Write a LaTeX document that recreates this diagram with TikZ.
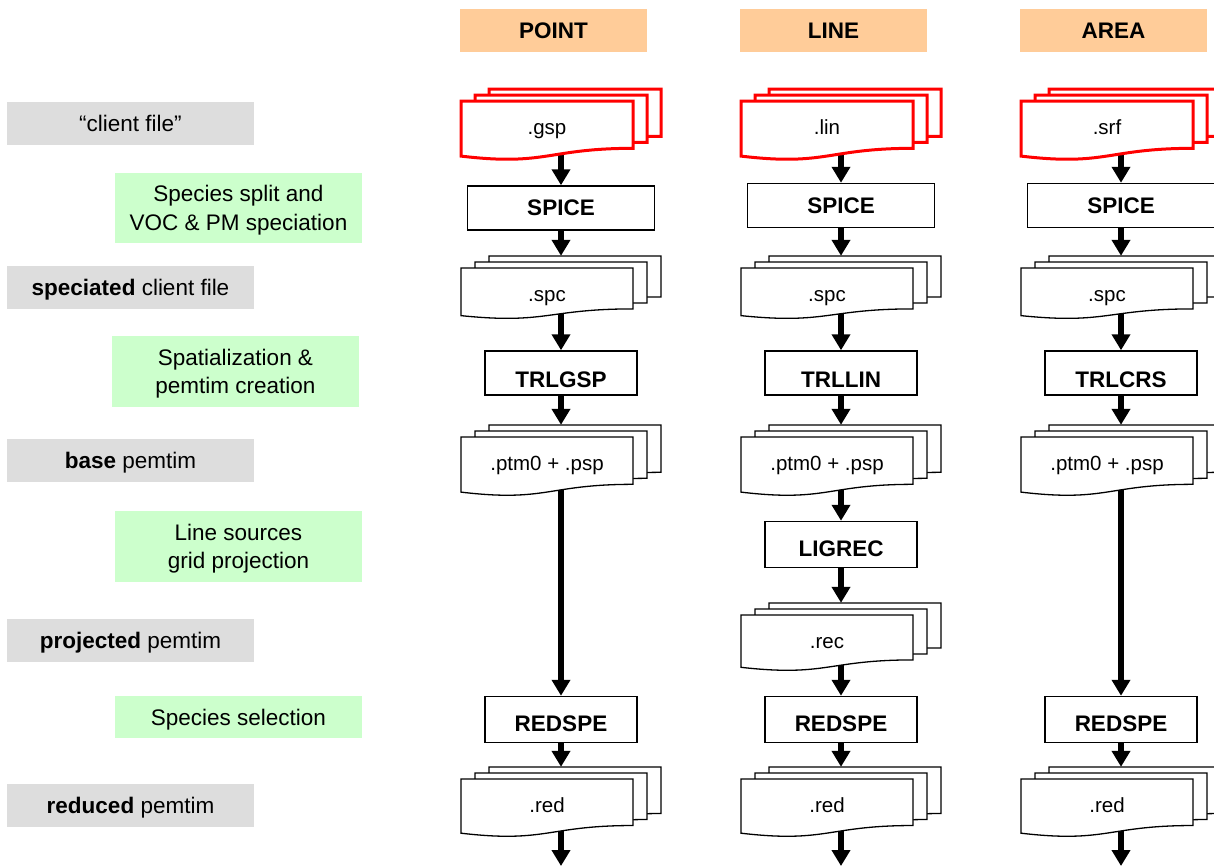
\documentclass[tikz,border=0pt]{standalone}
\usepackage{fontspec}
\setmainfont{Liberation Sans}
\usetikzlibrary{arrows.meta,backgrounds}

\definecolor{hdrorange}{HTML}{FFCC99}
\definecolor{stepgreen}{HTML}{CCFFCC}
\definecolor{filegray}{HTML}{DDDDDD}

\tikzset{
  lblfont/.style={font=\fontsize{22.5}{28.5}\selectfont, text depth=0pt},
  graylbl/.style={lblfont, fill=filegray, minimum width=247pt, minimum height=43pt, inner sep=0pt, align=center},
  greenlbl/.style={lblfont, fill=stepgreen, minimum width=247pt, inner sep=0pt, align=center},
  hdr/.style={fill=hdrorange, minimum width=187pt, minimum height=43pt, inner sep=0pt,
              font=\fontsize{22.5}{27}\selectfont\bfseries},
  prog/.style={draw, line width=1.5pt, fill=white, minimum height=44pt, inner sep=0pt,
               font=\fontsize{22.5}{27}\selectfont\bfseries},
  flow/.style={line width=6pt, -{Triangle[width=18pt,length=16pt]}},
  docline/.style={draw=black, line width=1.3pt, fill=white},
  clientline/.style={draw=red, line width=3pt, fill=white},
  doctext/.style={font=\fontsize{20.5}{24}\selectfont, inner sep=0pt},
}

% one sheet of a document symbol: top-left corner (#1,#2), height #3, style #4
\newcommand\docsheet[4]{%
  \path[#4] ({#1},{#2}) -- ({#1+172},{#2}) -- ({#1+172},{#2+0.802*#3})
    .. controls ({#1+86},{#2+0.802*#3}) and ({#1+86},{#2+1.107*#3}) .. ({#1},{#2+0.934*#3}) -- cycle;}

% stack of three sheets: name, centre x, top of front sheet, height, text, style
\newcommand\docstack[6]{%
  \docsheet{#2-72}{#3-12}{#4}{#6}%
  \docsheet{#2-86}{#3-6}{#4}{#6}%
  \docsheet{#2-100}{#3}{#4}{#6}%
  \node[doctext, anchor=base] (#1-t) at ({#2-14},{#3+33}) {#5};%
  \node[inner sep=0pt, minimum width=200pt, minimum height={(12+0.88*#4)*1pt}]
    (#1) at ({#2},{#3-12+(12+0.88*#4)/2}) {};%
}

\begin{document}
\begin{tikzpicture}[x=1pt,y=-1pt]
\useasboundingbox (0,0) rectangle (1214,867);
\begin{pgfonlayer}{background}
  \fill[white] (0,0) rectangle (1214,867);
\end{pgfonlayer}

% processing stages (left side)
\node[graylbl] (lClient) at (130.5,123) {“client file”};
\node[greenlbl, minimum height=70pt] (lSplit) at (238.5,208) {Species split and\\VOC \& PM speciation};
\node[graylbl] (lSpec) at (130.5,287) {\textbf{speciated} client file};
\node[greenlbl, minimum height=71pt] (lSpat) at (235.5,371.5) {Spatialization \&\\pemtim creation};
\node[graylbl] (lBase) at (130.5,460.5) {\textbf{base} pemtim};
\node[greenlbl, minimum height=71pt] (lProj) at (238.5,546.5) {Line sources\\grid projection};
\node[graylbl] (lProjd) at (130.5,640.5) {\textbf{projected} pemtim};
\node[greenlbl, minimum height=42pt] (lSel) at (238.5,717) {Species selection};
\node[graylbl] (lRed) at (130.5,805.5) {\textbf{reduced} pemtim};

% one column per source type
\foreach \c/\cx/\hd/\cf/\trl/\sy in {P/561/POINT/.gsp/TRLGSP/208,
                                     L/841/LINE/.lin/TRLLIN/205.5,
                                     A/1121/AREA/.srf/TRLCRS/205.5} {
  \node[hdr] (hd\c) at (\cx-7.5,30.5) {\hd};
  \docstack{cl\c}{\cx}{101}{59}{\cf}{clientline}
  \node[prog, minimum width=187pt] (sp\c) at (\cx,\sy) {SPICE};
  \docstack{spc\c}{\cx}{268}{51}{.spc}{docline}
  \node[prog, minimum width=152pt, text height=28pt, text depth=0pt] (tr\c) at (\cx,373) {\trl};
  \docstack{ptm\c}{\cx}{437}{59}{.ptm0 + .psp}{docline}
  \node[prog, minimum width=152pt, minimum height=46pt, text height=24pt, text depth=0pt]
    (rs\c) at (\cx,719.5) {REDSPE};
  \docstack{red\c}{\cx}{779}{58}{.red}{docline}
  \coordinate (end\c) at (\cx,866);
  \begin{pgfonlayer}{background}
    \draw[flow] (cl\c.south) -- (sp\c.north);
    \draw[flow] (sp\c.south) -- (spc\c.north);
    \draw[flow] (spc\c.south) -- (tr\c.north);
    \draw[flow] (tr\c.south) -- (ptm\c.north);
    \draw[flow] (rs\c.south) -- (red\c.north);
    \draw[flow] (red\c.south) -- (end\c);
  \end{pgfonlayer}
}

% line sources get an extra grid projection step
\node[prog, minimum width=152pt, minimum height=46pt, text height=23pt, text depth=0pt]
  (lig) at (841,544.5) {LIGREC};
\docstack{rec}{841}{615}{56}{.rec}{docline}

\begin{pgfonlayer}{background}
  \draw[flow] (ptmP.south) -- (rsP.north);
  \draw[flow] (ptmA.south) -- (rsA.north);
  \draw[flow] (ptmL.south) -- (lig.north);
  \draw[flow] (lig.south) -- (rec.north);
  \draw[flow] (rec.south) -- (rsL.north);
\end{pgfonlayer}
\end{tikzpicture}
\end{document}
